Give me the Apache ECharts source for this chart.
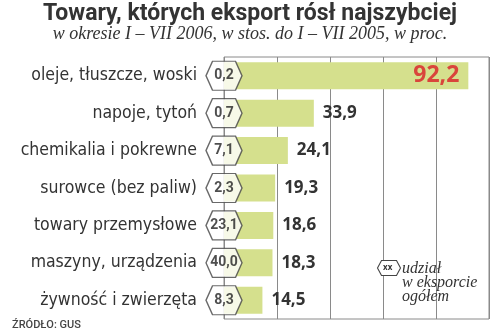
<!DOCTYPE html>
<html><head><meta charset="utf-8">
<script src="https://cdn.jsdelivr.net/npm/echarts@6/dist/echarts.min.js"></script>
<style>html,body{margin:0;padding:0;background:#fff}#c{width:500px;height:335px}</style>
</head><body><div id="c"></div>
<script>
var categories = ['oleje, tłuszcze, woski','napoje, tytoń','chemikalia i pokrewne','surowce (bez paliw)','towary przemysłowe','maszyny, urządzenia','żywność i zwierzęta'];
var growth = [92.2, 33.9, 24.1, 19.3, 18.6, 18.3, 14.5];
var share = ['0,2','0,7','7,1','2,3','23,1','40,0','8,3'];
var xTicks = [0, 20, 40, 60, 80, 100];

var chart = echarts.init(document.getElementById('c'));
var fmt = function (v) { return String(v).replace('.', ','); };
var barData = growth.map(function (v, i) {
  if (i === 0) {
    return { value: v, label: { position: 'insideRight', distance: 9, color: '#d9453b', fontSize: 23 } };
  }
  return v;
});
var hexPath = 'path://M0,14.5 L6.5,0 L29.5,0 L36,14.5 L29.5,29 L6.5,29 Z';
chart.setOption({
  animation: false,
  grid: { left: 224, right: 11, top: 57, bottom: 16, show: true, borderColor: '#8a8a8a', borderWidth: 1 },
  xAxis: {
    type: 'value', min: xTicks[0], max: xTicks[xTicks.length - 1], interval: xTicks[1] - xTicks[0],
    axisLabel: { show: false }, axisTick: { show: false },
    axisLine: { show: false },
    splitLine: { lineStyle: { color: '#8a8a8a', width: 1 } }
  },
  yAxis: {
    type: 'category', inverse: true, data: categories,
    axisLine: { show: false }, axisTick: { show: false },
    axisLabel: { margin: 27, fontSize: 17.5, color: '#333', fontFamily: "'DejaVu Sans Condensed', 'DejaVu Sans'" }
  },
  series: [
    {
      type: 'bar', data: barData, barWidth: 27, itemStyle: { color: '#d5e08d' },
      label: { show: true, position: 'right', distance: 9, formatter: function (p) { return fmt(p.value); },
        fontFamily: 'Open Sans', fontWeight: 'bold', fontSize: 17, color: '#333' }
    },
    {
      type: 'scatter', clip: false, z: 5,
      data: share.map(function (s, i) { return { value: [0, i], name: s }; }),
      symbol: hexPath, symbolSize: [36, 29],
      itemStyle: { color: '#fff', borderColor: '#444', borderWidth: 1.3 },
      label: { show: true, position: 'inside', formatter: function (p) { return p.name; },
        fontFamily: 'Roboto', fontWeight: 'bold', fontSize: 14, color: '#222' }
    }
  ],
  graphic: [
    { type: 'text', left: 'center', top: 3, style: { text: 'Towary, których eksport rósł najszybciej', font: 'bold 23px Roboto', fill: '#333' } },
    { type: 'text', left: 'center', top: 25, style: { text: 'w okresie I – VII 2006, w stos. do I – VII 2005, w proc.', font: 'italic 18px "Liberation Serif"', fill: '#333' } },
    { type: 'text', left: 12, top: 320, style: { text: 'ŹRÓDŁO: GUS', font: '500 11px Roboto', fill: '#444' } },
    { type: 'polygon', z: 10, shape: { points: [[377.5, 268], [381.5, 260.5], [396.5, 260.5], [400.5, 268], [396.5, 275.5], [381.5, 275.5]] },
      style: { fill: '#fff', stroke: '#444', lineWidth: 1.1 } },
    { type: 'text', z: 11, left: 383, top: 264, style: { text: 'xx', font: 'bold 8px "Open Sans"', fill: '#333' } },
    { type: 'text', z: 11, left: 402, top: 261, style: { text: 'udział\nw eksporcie\nogółem', font: 'italic 16px "Liberation Serif"', lineHeight: 14, fill: '#333' } }
  ]
});
</script></body></html>
